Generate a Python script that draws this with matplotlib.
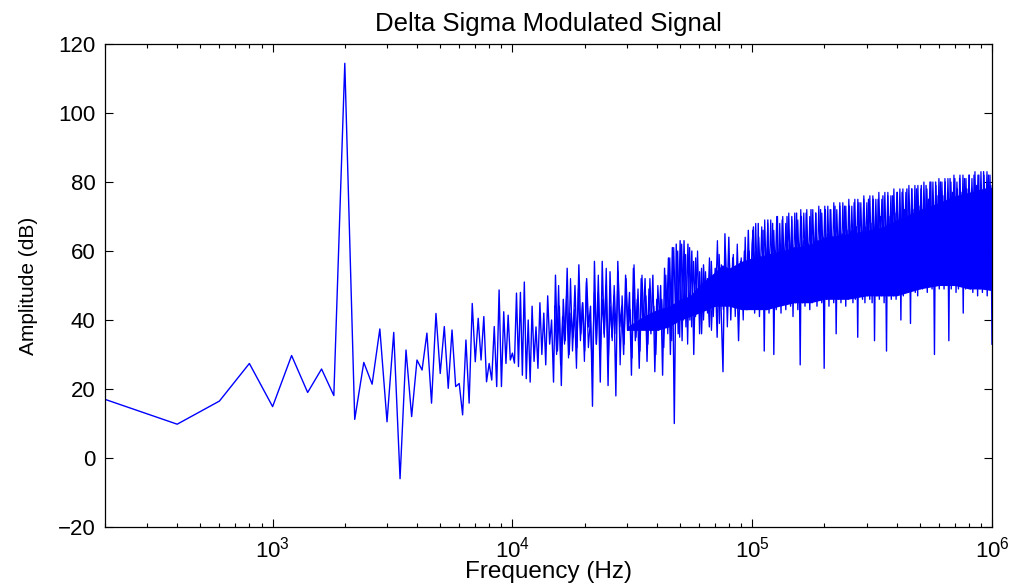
import numpy as np
import matplotlib
matplotlib.use("Agg")
import matplotlib.pyplot as plt
from matplotlib.ticker import LogLocator

plt.rcParams['font.family'] = ['Liberation Sans', 'DejaVu Sans']
plt.rcParams['mathtext.fontset'] = 'custom'
plt.rcParams['mathtext.rm'] = 'Liberation Sans'
plt.rcParams['mathtext.it'] = 'Liberation Sans'

# ---- data ----
# resolved FFT bins, 200 Hz spacing, 200 Hz .. 10.6 kHz
bin_width_hz = 200
amp_low = [17.0, 9.8, 16.5, 27.4, 14.9, 29.7, 19.0, 25.8, 18.1, 114.4,
           11.2, 27.7, 21.4, 37.4, 10.5, 36.4, -6.0, 31.3, 12.0, 28.4,
           25.5, 36.2, 15.9, 41.9, 24.5, 38.1, 20.2, 37.1, 20.7, 21.6,
           12.5, 34.2, 15.9, 44.8, 27.9, 40.5, 28.4, 41.0, 22.1, 27.4,
           22.6, 38.1, 20.7, 48.7, 20.7, 42.4, 27.4, 41.4, 28.4, 30.4,
           27.5, 47.8, 26.5]

# dense part, amplitudes read at evenly spaced positions on the log axis
mid_start_hz, mid_stop_hz = 10800, 1.0e5
amp_mid = [48, 24, 51, 23, 40, 22, 44, 28, 38, 26, 45, 30, 42, 27, 47, 33, 40, 22, 53, 31, 44,
           21, 46, 34, 55, 30, 42, 35, 50, 32, 56, 36, 45, 31, 52, 38, 44, 15, 57, 33, 48, 22,
           57, 36, 50, 21, 54, 35, 47, 18, 57, 38, 44, 30, 53, 37, 48, 24, 55, 34, 46, 26, 52,
           38, 52, 28, 49, 36, 53, 25, 46, 37, 50, 24, 55, 38, 58, 30, 61, 10, 62, 36, 63, 34,
           63, 38, 62, 40, 60, 30, 58, 42, 54, 36, 56, 44, 52, 38, 57, 41, 55, 35, 59, 44, 25,
           65, 44, 64, 40, 58, 46, 55, 34, 57, 45, 60, 43, 66, 45, 62]

# interleaved bins of the same spectrum (second pass of readings)
mid_b_start_hz, mid_b_stop_hz = 15000, 0.99e5
amp_mid_b = [44, 30, 50, 27, 41, 33, 47, 29, 52, 31, 43, 26, 49, 34, 45, 28, 51, 32, 40, 25, 48, 33,
             53, 30, 46, 35, 55, 28, 44, 34, 50, 36, 54, 27, 47, 33, 52, 37, 43, 29, 56, 35, 49, 31,
             53, 38, 47, 33, 52, 37, 44, 30, 50, 38, 46, 32, 53, 36, 58, 34, 61, 39, 60, 35, 62, 40,
             59, 33, 61, 38, 57, 41, 60, 36, 55, 40, 54, 42, 58, 37, 52, 44, 63, 39, 56, 43, 61, 38,
             57, 45, 59, 41, 62, 44, 58, 40, 64, 43, 60, 45]

high_start_hz, high_stop_hz = 1.012e5, 1.0e6
amp_high = [67, 42, 60, 45, 68, 41, 58, 44, 66, 31, 61, 43, 69, 42, 59, 46, 68, 30, 60, 43,
            70, 44, 61, 42, 69, 45, 60, 43, 70, 46, 62, 44, 70, 41, 61, 45, 71, 43, 62, 27,
            70, 45, 63, 44, 71, 46, 62, 43, 72, 45, 64, 47, 71, 44, 63, 46, 72, 45, 64, 26,
            72, 46, 65, 44, 72, 47, 64, 45, 73, 36, 66, 46, 73, 45, 65, 47, 73, 44, 66, 46,
            73, 47, 66, 45, 74, 46, 67, 35, 74, 47, 66, 46, 75, 45, 67, 47, 75, 46, 68, 45,
            75, 34, 69, 47, 75, 46, 70, 47, 76, 45, 69, 31, 76, 47, 70, 46, 76, 47, 71, 46,
            77, 48, 72, 40, 77, 47, 72, 49, 78, 48, 73, 39, 78, 49, 72, 48, 78, 47, 73, 49,
            79, 49, 74, 50, 79, 48, 75, 51, 80, 49, 75, 30, 80, 50, 76, 49, 80, 51, 76, 49,
            80, 50, 77, 34, 81, 49, 77, 50, 81, 48, 78, 49, 81, 50, 77, 42, 81, 49, 78, 50,
            82, 49, 78, 48, 82, 50, 79, 47, 82, 49, 79, 48, 83, 50, 78, 47, 82, 49, 79, 33]

high_b_start_hz, high_b_stop_hz = 1.005e5, 0.995e6
amp_high_b = [66, 52, 68, 50, 64, 53, 67, 51, 69, 52, 68, 53, 69, 51, 66, 54, 70, 52, 68, 53,
              70, 54, 68, 52, 71, 55, 69, 53, 71, 54, 69, 55, 72, 53, 71, 56, 72, 54, 70, 55,
              72, 56, 71, 55, 73, 57, 71, 56, 73, 55, 73, 57, 72, 56, 74, 58, 72, 57, 74, 56,
              74, 58, 73, 57, 75, 59, 73, 58, 75, 57, 75, 59, 74, 58, 76, 60, 74, 59, 76, 58,
              76, 60, 75, 59, 77, 61, 75, 60, 77, 59, 77, 61, 76, 60, 78, 62, 77, 61, 78, 60,
              78, 62, 77, 61, 79, 63, 78, 62, 79, 61, 79, 63, 78, 62, 80, 64, 78, 63, 80, 62,
              80, 64, 79, 63, 81, 65, 80, 64, 81, 63, 81, 65, 80, 64, 82, 66, 80, 65, 82, 64,
              82, 66, 81, 65, 82, 67, 81, 66, 83, 65, 82, 67, 83, 66, 82, 68, 83, 67, 82, 66]

# solid core of the dense spectrum (where the trace overlaps itself)
core_freq = [3e4, 3.5e4, 4e4, 4.5e4, 5e4, 5.5e4, 6e4, 6.5e4, 7e4, 7.5e4, 8e4, 9e4,
             1e5, 1.15e5, 1.3e5, 1.5e5, 1.75e5, 2e5, 2.5e5, 3e5, 3.5e5, 4e5,
             5e5, 6e5, 7e5, 8e5, 9e5, 1e6]
core_top = [38, 41, 43, 44, 46, 47, 50, 52, 54, 56, 55, 57,
            58, 59, 60, 61, 62, 64, 65, 66, 67, 69,
            72, 74, 76, 77, 78, 78.5]
core_bottom = [37, 37, 37, 38, 40, 41, 42, 43, 44, 44, 44, 43,
               43, 43, 44, 45, 45, 46, 46, 47, 47, 47,
               49, 50, 50, 49, 49, 48.5]

y_ticks = [-20, 0, 20, 40, 60, 80, 100, 120]
title_text = "Delta Sigma Modulated Signal"
x_label = "Frequency (Hz)"
y_label = "Amplitude (dB)"

# ---- build series ----
f_low = bin_width_hz * np.arange(1, len(amp_low) + 1)
f_mid = np.geomspace(mid_start_hz, mid_stop_hz, len(amp_mid))
f_high = np.geomspace(high_start_hz, high_stop_hz, len(amp_high))
freq = np.concatenate([f_low, f_mid, f_high])
amp = np.concatenate([amp_low, amp_mid, amp_high])
f_mid_b = np.geomspace(mid_b_start_hz, mid_b_stop_hz, len(amp_mid_b))
f_high_b = np.geomspace(high_b_start_hz, high_b_stop_hz, len(amp_high_b))
freq_b = np.concatenate([f_mid_b, f_high_b])
amp_b = np.concatenate([amp_mid_b, amp_high_b])

blue = '#0000ff'
fig = plt.figure(figsize=(10.13, 5.84), dpi=100)
ax = fig.add_axes([105 / 1013, 1 - 527 / 584, 887 / 1013, 483 / 584])
ax.fill_between(core_freq, core_bottom, core_top, color=blue, linewidth=0)
ax.semilogx(freq_b, amp_b, color=blue, linewidth=0.9)
ax.semilogx(freq, amp, color=blue, linewidth=1.0)

ax.set_xlim(200, 1e6)
ax.set_ylim(-20, 120)
ax.set_yticks(y_ticks)
ax.xaxis.set_major_locator(LogLocator(base=10, numticks=10))
ax.xaxis.set_minor_locator(LogLocator(base=10, subs=np.arange(2, 10), numticks=20))

ax.tick_params(which='both', direction='in', top=True, right=True,
               labelsize=16, color='black', width=0.8)
ax.tick_params(which='major', length=5.5)
ax.tick_params(axis='y', which='major', pad=7)
ax.tick_params(axis='x', which='major', pad=7)
ax.tick_params(which='minor', length=3)
for s in ax.spines.values():
    s.set_linewidth(0.9)
    s.set_color('black')

ax.set_title(title_text, fontsize=18.5, pad=9)
ax.set_xlabel(x_label, fontsize=17.5, labelpad=-1)
ax.set_ylabel(y_label, fontsize=15, labelpad=14)

fig.savefig("out.png", dpi=100)
